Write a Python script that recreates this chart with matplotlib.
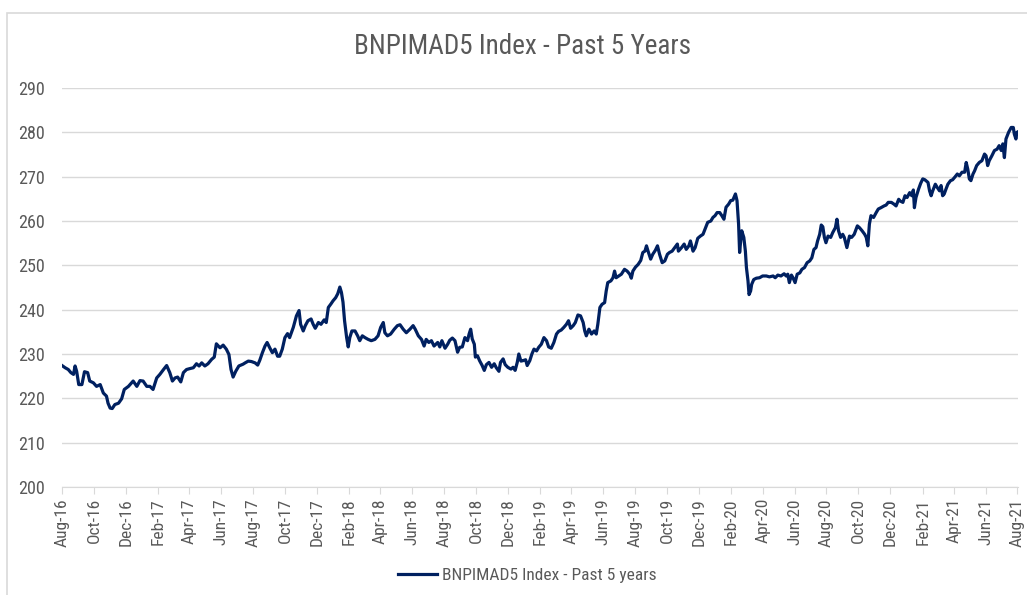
import matplotlib
matplotlib.use("Agg")
import matplotlib.pyplot as plt
import matplotlib.dates as mdates
from matplotlib.patches import Rectangle
import pandas as pd

# Index level, day offsets counted from 1 Aug 2016
days_2016_17 = [0, 6, 12, 17, 22, 25, 28, 32, 38, 43, 49, 53, 60, 66, 73, 79, 85, 88, 92, 96,
                101, 108, 114, 119, 127, 136, 143, 149, 155, 162, 168, 174, 181, 187, 194, 200,
                206, 211, 216, 221, 227, 232, 238, 244, 251, 257, 262, 267, 273, 279, 286, 291,
                295, 302, 308, 314, 319, 323, 327, 332, 338, 346]
vals_2016_17 = [227.4, 226.9, 226.5, 225.8, 225.4, 227.3, 226.1, 223.1, 223.1, 226.0, 225.8, 223.9,
                223.5, 222.7, 223.1, 221.2, 220.5, 218.9, 217.8, 217.7, 218.6, 218.9, 219.9, 222.0,
                222.7, 223.9, 222.7, 224.0, 223.9, 222.7, 222.7, 222.0, 224.6, 225.4, 226.5, 227.4,
                225.8, 223.9, 224.6, 224.8, 223.7, 225.8, 226.5, 226.7, 226.9, 227.8, 227.3, 228.0,
                227.3, 227.8, 228.8, 229.3, 232.3, 231.4, 232.0, 231.1, 229.9, 226.5, 224.8, 226.1,
                227.3, 227.7]

days_2017_18 = [350, 356, 362, 369, 374, 378, 383, 388, 392, 397, 402, 407, 412, 416, 421, 426,
                431, 435, 442, 448, 453, 456, 461, 465, 470, 476, 480, 484, 490, 495, 501, 505,
                509, 514, 518, 523, 527, 531, 534, 537, 540, 544, 547, 550, 554, 560, 565, 569,
                574, 579, 585, 591, 598, 604, 609, 614, 617, 622, 628, 635, 641, 646, 652, 658,
                665, 671, 675, 681, 687, 692, 696, 701, 706, 711]
vals_2017_18 = [228.0, 228.4, 228.3, 228.0, 227.5, 228.6, 230.3, 231.8, 232.6, 231.4, 230.3, 231.1,
                229.5, 229.5, 231.1, 233.7, 234.6, 233.7, 236.0, 238.6, 239.8, 236.7, 235.2, 236.4,
                237.5, 237.9, 236.7, 235.8, 237.1, 236.7, 237.7, 237.1, 240.5, 241.3, 242.0, 242.7,
                243.6, 245.1, 243.9, 241.7, 237.5, 233.7, 231.6, 233.7, 235.2, 235.2, 234.1, 233.0,
                234.1, 233.7, 233.3, 233.0, 233.3, 234.1, 236.0, 237.1, 234.8, 234.1, 234.5, 235.6,
                236.4, 236.6, 235.6, 234.8, 235.6, 236.4, 235.6, 234.1, 233.3, 231.8, 233.3, 232.6,
                233.0, 231.8]

days_2018_19 = [718, 722, 726, 732, 737, 741, 746, 751, 756, 760, 765, 770, 775, 778, 781, 784,
                788, 790, 794, 798, 803, 807, 811, 816, 821, 826, 830, 835, 838, 843, 847, 852,
                858, 862, 866, 870, 873, 877, 881, 886, 889, 894, 898, 902, 907, 911, 916, 921,
                926, 930, 935, 940, 945, 949, 954, 959, 964, 968, 972, 977, 981, 986, 991, 996,
                999, 1002, 1007, 1012, 1017, 1021, 1024, 1028, 1032, 1037, 1040, 1043, 1049, 1053,
                1056, 1059, 1064, 1069]
vals_2018_19 = [232.6, 231.6, 233.0, 231.3, 232.2, 233.1, 233.6, 233.0, 230.4, 231.5, 231.6, 233.7,
                233.0, 234.5, 235.6, 233.4, 232.2, 229.3, 229.6, 228.5, 227.4, 226.3, 227.6, 228.1,
                227.0, 227.8, 226.9, 226.1, 228.1, 228.9, 227.6, 227.0, 226.6, 227.0, 226.3, 228.1,
                230.0, 228.4, 228.5, 228.7, 227.4, 228.5, 230.0, 231.1, 230.7, 231.5, 232.2, 233.7,
                233.0, 231.6, 231.3, 232.6, 234.5, 235.1, 235.4, 236.0, 236.7, 237.5, 235.8, 236.4,
                237.1, 238.8, 238.6, 237.1, 235.2, 234.1, 235.6, 234.5, 235.2, 234.5, 236.7, 240.5,
                241.2, 241.6, 244.2, 246.1, 246.5, 247.2, 248.7, 247.2, 247.6, 248.0]

days_2019_20 = [1075, 1080, 1085, 1088, 1091, 1096, 1101, 1106, 1110, 1114, 1117, 1120, 1125, 1129,
                1134, 1138, 1142, 1147, 1152, 1157, 1161, 1166, 1171, 1176, 1178, 1184, 1189, 1193,
                1198, 1201, 1206, 1210, 1215, 1220, 1225, 1229, 1234, 1240, 1244, 1248, 1252, 1257,
                1261, 1265, 1269, 1274, 1278, 1282, 1287, 1290, 1293, 1295, 1297, 1299, 1303, 1306,
                1308, 1311, 1313, 1316, 1318, 1322, 1327, 1333, 1339, 1346, 1352, 1359, 1363, 1368,
                1374, 1380, 1384, 1387, 1390, 1394, 1397, 1401, 1405, 1410, 1414, 1419, 1424, 1429,
                1433, 1437]
vals_2019_20 = [249.1, 248.7, 248.0, 247.1, 248.7, 249.6, 250.2, 251.1, 252.9, 253.2, 254.4, 253.2,
                251.4, 252.5, 253.4, 254.4, 252.5, 250.6, 251.0, 252.5, 252.9, 253.2, 254.0, 254.8,
                253.2, 254.0, 254.8, 253.6, 254.4, 255.5, 253.2, 254.0, 256.1, 256.6, 257.0, 258.2,
                259.7, 260.0, 260.8, 261.2, 261.9, 261.9, 261.2, 260.4, 263.1, 263.8, 264.6, 264.7,
                266.1, 264.6, 259.3, 252.9, 255.5, 257.8, 256.3, 253.2, 249.5, 246.5, 243.4, 244.2,
                245.7, 246.8, 247.1, 247.2, 247.6, 247.6, 247.4, 247.6, 247.2, 247.8, 247.6, 248.1,
                247.6, 248.0, 246.1, 247.8, 247.2, 246.1, 248.0, 248.3, 249.1, 249.5, 250.6, 251.0,
                251.7, 253.6]

days_2020_21 = [1441, 1444, 1448, 1451, 1454, 1457, 1460, 1464, 1469, 1473, 1478, 1481, 1484, 1488,
                1492, 1495, 1500, 1505, 1509, 1514, 1520, 1524, 1529, 1534, 1537, 1540, 1543, 1546,
                1551, 1556, 1560, 1565, 1571, 1575, 1579, 1585, 1590, 1594, 1599, 1602, 1607, 1611,
                1615, 1620, 1624, 1627, 1629, 1632, 1637, 1641, 1645, 1649, 1655, 1658, 1661, 1664,
                1669, 1672, 1677, 1680, 1683, 1686, 1690, 1693, 1698, 1702, 1707, 1711, 1715, 1720,
                1725, 1728, 1731, 1734, 1737, 1741, 1744, 1748, 1753, 1758, 1763, 1766, 1769, 1772,
                1777, 1782, 1787, 1791, 1795, 1798, 1801, 1804, 1809, 1814, 1818, 1820, 1823, 1825,
                1828]
vals_2020_21 = [254.0, 255.5, 257.0, 259.1, 258.7, 256.3, 255.1, 256.6, 256.3, 257.4, 258.5, 260.4,
                257.8, 256.3, 257.0, 256.3, 254.0, 256.6, 256.3, 257.0, 258.9, 258.5, 257.8, 257.0,
                256.3, 254.4, 259.3, 261.2, 260.8, 261.9, 262.7, 263.0, 263.4, 263.6, 264.2, 264.2,
                263.8, 263.4, 264.9, 264.5, 264.2, 265.7, 265.3, 266.4, 265.7, 267.0, 263.0, 265.3,
                267.2, 268.5, 269.5, 269.3, 268.7, 266.8, 265.7, 266.8, 268.3, 267.7, 266.8, 268.0,
                265.7, 266.1, 267.4, 268.3, 269.1, 269.3, 270.0, 270.6, 270.2, 271.0, 271.0, 273.2,
                271.7, 269.5, 269.1, 270.6, 271.3, 272.5, 273.2, 273.6, 275.1, 274.7, 272.5, 273.6,
                274.7, 275.9, 276.2, 277.0, 275.9, 277.4, 274.3, 278.5, 280.0, 281.1, 281.1, 279.6,
                278.5, 280.0, 280.2]

start = pd.Timestamp("2016-08-01")
days = days_2016_17 + days_2017_18 + days_2018_19 + days_2019_20 + days_2020_21
values = vals_2016_17 + vals_2017_18 + vals_2018_19 + vals_2019_20 + vals_2020_21
dates = start + pd.to_timedelta(days, unit="D")

title = "BNPIMAD5 Index - Past 5 Years"
series_name = "BNPIMAD5 Index - Past 5 years"
y_ticks = [200, 210, 220, 230, 240, 250, 260, 270, 280, 290]
x_ticks = pd.date_range("2016-08-01", "2021-08-01", freq="2MS")

navy = "#002060"
grey_text = "#595959"
grid_grey = "#d9d9d9"
plt.rcParams["font.family"] = ["Roboto Condensed", "DejaVu Sans"]

fig = plt.figure(figsize=(10.27, 5.95), dpi=100)
fig.patches.append(Rectangle((7 / 1027, -0.1), 1.2, 1 - 13 / 595 + 0.1,
                             transform=fig.transFigure, fill=False,
                             edgecolor=grid_grey, linewidth=1.2))

ax = fig.add_axes([62 / 1027, 1 - 487 / 595, 956 / 1027, 399 / 595])
ax.plot(dates, values, color=navy, linewidth=2.3, label=series_name)

ax.set_ylim(200, 290)
ax.set_yticks(y_ticks)
ax.set_xlim(start, pd.Timestamp("2021-08-02"))
ax.set_xticks(x_ticks)
ax.xaxis.set_major_formatter(mdates.DateFormatter("%b-%y"))
ax.grid(axis="y", color=grid_grey, linewidth=1.0)
ax.set_axisbelow(True)
for side in ["top", "right", "left"]:
    ax.spines[side].set_visible(False)
ax.spines["bottom"].set_color(grid_grey)
ax.tick_params(axis="y", length=0, pad=12, labelsize=13, labelcolor=grey_text)
ax.tick_params(axis="x", length=5, color=grid_grey, pad=3, labelsize=12.5,
               labelcolor=grey_text, labelrotation=90)

fig.text(523 / 1027, 1 - 46 / 595, title, ha="center", va="center",
         fontsize=19.5, color=grey_text)
fig.legend(loc="center", bbox_to_anchor=(527 / 1027, 1 - 575 / 595), frameon=False,
           fontsize=12.5, labelcolor=grey_text, handlelength=2.3, handletextpad=0.25)

fig.savefig("out.png", dpi=100)
